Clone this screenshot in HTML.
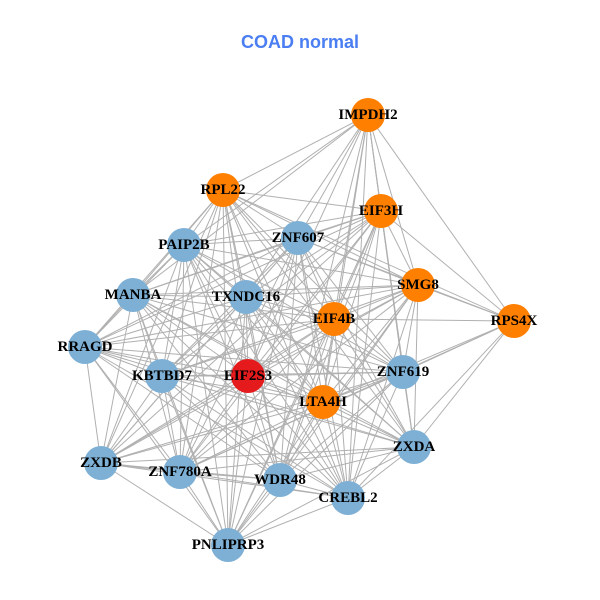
<!DOCTYPE html>
<html><head><meta charset="utf-8"><style>
html,body{margin:0;padding:0;background:#fff;width:600px;height:600px;overflow:hidden}
svg text.l{font-family:"Liberation Serif",serif;font-weight:bold;font-size:15px;fill:#000;text-anchor:middle;dominant-baseline:central}
</style></head><body>
<svg id="s" width="600" height="600" xmlns="http://www.w3.org/2000/svg">
<text x="300" y="48" font-family="Liberation Sans, sans-serif" font-weight="bold" font-size="18" fill="#4a7ef2" text-anchor="middle">COAD normal</text>
<g id="e" stroke="#b0b0b0" stroke-width="1"></g>
<g id="n"></g>
<g id="t">
<text class="l" x="368" y="115">IMPDH2</text>
<text class="l" x="223" y="190">RPL22</text>
<text class="l" x="381" y="211">EIF3H</text>
<text class="l" x="298" y="238">ZNF607</text>
<text class="l" x="184" y="245">PAIP2B</text>
<text class="l" x="418" y="285">SMG8</text>
<text class="l" x="133" y="295">MANBA</text>
<text class="l" x="246" y="297">TXNDC16</text>
<text class="l" x="334" y="319">EIF4B</text>
<text class="l" x="514" y="321">RPS4X</text>
<text class="l" x="85" y="347">RRAGD</text>
<text class="l" x="162" y="376">KBTBD7</text>
<text class="l" x="248" y="376">EIF2S3</text>
<text class="l" x="403" y="372">ZNF619</text>
<text class="l" x="323" y="402">LTA4H</text>
<text class="l" x="414" y="447">ZXDA</text>
<text class="l" x="101" y="463">ZXDB</text>
<text class="l" x="180" y="472">ZNF780A</text>
<text class="l" x="280" y="480">WDR48</text>
<text class="l" x="348" y="498">CREBL2</text>
<text class="l" x="228" y="545">PNLIPRP3</text>
</g>
</svg>
<script>
var N=[[368,115,'o'],[223,190,'o'],[381,211,'o'],[298,238,'b'],[184,245,'b'],[418,285,'o'],[133,295,'b'],[246,297,'b'],[334,319,'o'],[514,321,'o'],[85,347,'b'],[162,376,'b'],[248,376,'r'],[403,372,'b'],[323,402,'o'],[414,447,'b'],[101,463,'b'],[180,472,'b'],[280,480,'b'],[348,498,'b'],[228,545,'b']];
var C={o:'#ff7f00',b:'#7eb0d5',r:'#e41a1c'};
var ns='http://www.w3.org/2000/svg',E=document.getElementById('e'),G=document.getElementById('n');
var keepR=[0,2,5,8,13,15,19,14,17,16,3,1];
for(var i=0;i<N.length;i++)for(var j=i+1;j<N.length;j++){
 var a=N[i],b=N[j],d=Math.hypot(a[0]-b[0],a[1]-b[1]);
 if(j==9&&keepR.indexOf(i)<0)continue;
 if(i==9&&keepR.indexOf(j)<0)continue;
 if(d>420)continue;
 if(i==0&&(j==10||j==16||j==20||j==17||j==11))continue;
 var l=document.createElementNS(ns,'line');
 l.setAttribute('x1',a[0]);l.setAttribute('y1',a[1]);l.setAttribute('x2',b[0]);l.setAttribute('y2',b[1]);E.appendChild(l);}
N.forEach(function(p){var c=document.createElementNS(ns,'circle');c.setAttribute('cx',p[0]);c.setAttribute('cy',p[1]);c.setAttribute('r',17);c.setAttribute('fill',C[p[2]]);G.appendChild(c);});
</script>
</body></html>
